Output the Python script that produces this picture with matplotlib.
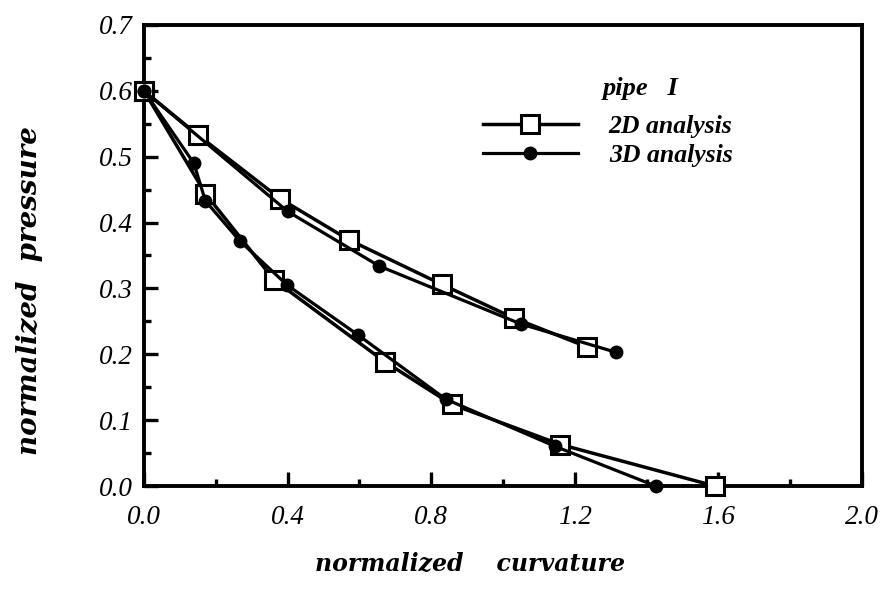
import matplotlib
matplotlib.use('Agg')
import matplotlib.pyplot as plt
from matplotlib.ticker import MultipleLocator, FormatStrFormatter

# ---- data ----
curv_2d_upper = [0.0, 0.15, 0.38, 0.57, 0.83, 1.03, 1.235]
pres_2d_upper = [0.60, 0.533, 0.436, 0.374, 0.306, 0.255, 0.211]

curv_3d_upper = [0.0, 0.40, 0.655, 1.05, 1.315]
pres_3d_upper = [0.60, 0.417, 0.334, 0.246, 0.203]

curv_2d_lower = [0.0, 0.171, 0.362, 0.67, 0.857, 1.16, 1.59]
pres_2d_lower = [0.60, 0.444, 0.313, 0.189, 0.124, 0.063, 0.0]

curv_3d_lower = [0.0, 0.139, 0.171, 0.267, 0.399, 0.597, 0.84, 1.146, 1.425]
pres_3d_lower = [0.60, 0.49, 0.433, 0.372, 0.305, 0.229, 0.132, 0.06, 0.0]

series_labels = ["2D analysis", "3D analysis"]
legend_title = "pipe   I"
x_label = "normalized    curvature"
y_label = "normalized  pressure"

plt.rcParams['font.family'] = ['Liberation Serif', 'DejaVu Serif']
plt.rcParams['font.style'] = 'italic'

fig = plt.figure(figsize=(8.86, 5.92), dpi=100)
ax = fig.add_axes([144 / 886, 1 - 486 / 592, 718 / 886, 461 / 592])

sq = dict(marker='s', markersize=12.5, markerfacecolor='white', markeredgecolor='black',
          markeredgewidth=2.2, color='black', linewidth=2.5, clip_on=False)
dot = dict(marker='o', markersize=9, color='black', linewidth=2.3, clip_on=False)

l2, = ax.plot(curv_2d_upper, pres_2d_upper, zorder=3, **sq)
ax.plot(curv_2d_lower, pres_2d_lower, zorder=3, **sq)
l3, = ax.plot(curv_3d_upper, pres_3d_upper, zorder=4, **dot)
ax.plot(curv_3d_lower, pres_3d_lower, zorder=4, **dot)

ax.set_xlim(0, 2.0)
ax.set_ylim(0, 0.7)
ax.xaxis.set_major_locator(MultipleLocator(0.4))
ax.xaxis.set_minor_locator(MultipleLocator(0.2))
ax.yaxis.set_major_locator(MultipleLocator(0.1))
ax.yaxis.set_minor_locator(MultipleLocator(0.05))
ax.xaxis.set_major_formatter(FormatStrFormatter('%.1f'))
ax.yaxis.set_major_formatter(FormatStrFormatter('%.1f'))

ax.tick_params(which='both', direction='in', top=False, right=False, width=2.4, labelsize=19.5)
ax.tick_params(which='major', length=10)
ax.tick_params(which='minor', length=5)
ax.tick_params(axis='x', which='both', pad=14)
ax.tick_params(axis='y', which='both', pad=8)

for s in ax.spines.values():
    s.set_linewidth(2.8)

ax.set_xlabel(x_label, fontsize=17, fontweight='bold', fontstyle='italic',
              family=['DejaVu Serif'])
ax.xaxis.set_label_coords(0.454, -0.143)
ax.set_ylabel(y_label, fontsize=20, fontweight='bold', fontstyle='italic',
              family=['DejaVu Serif'])
ax.yaxis.set_label_coords(-0.141, 0.425)

ax.legend([l2, l3], series_labels, loc='upper left', bbox_to_anchor=(0.472, 0.805),
          frameon=False, handlelength=3.7, handletextpad=1.2, labelspacing=0.25,
          borderpad=0, borderaxespad=0, numpoints=1,
          prop=dict(family='Liberation Serif', style='italic', weight='bold', size=18.5))
ax.text(0.639, 0.863, legend_title, transform=ax.transAxes, ha='left', va='center',
        fontsize=19, fontweight='bold', fontstyle='italic')

fig.savefig('out.png', dpi=100)
